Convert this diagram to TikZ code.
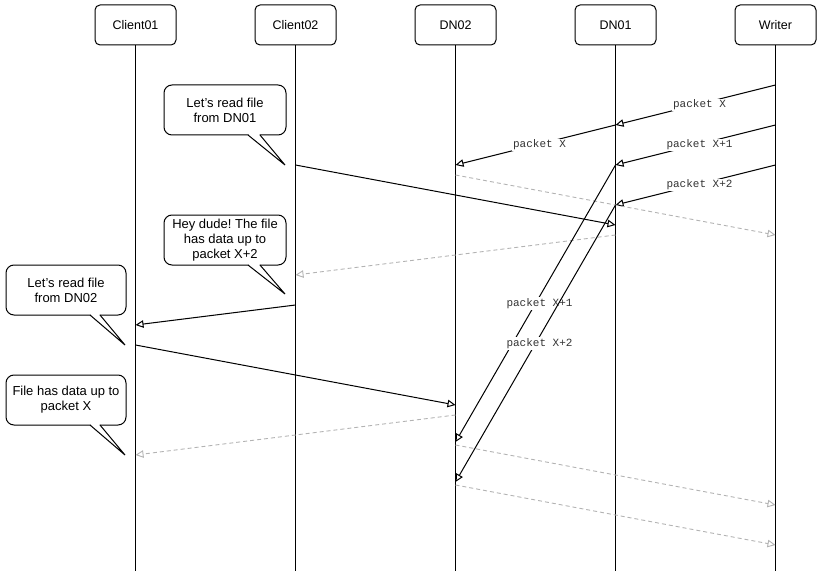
\documentclass[tikz,border=0pt]{standalone}
\usepackage{fontspec}
\setmainfont{Liberation Sans}
\newfontfamily\pkfont{Liberation Mono}
\usetikzlibrary{arrows.meta}
\definecolor{dashgrey}{HTML}{B3B3B3}
\definecolor{labgrey}{HTML}{333333}
\frenchspacing
\begin{document}
\begin{tikzpicture}[x=1pt,y=-1pt,
  actor/.style={draw, rounded corners=5pt, minimum width=81pt, minimum height=40pt, font=\fontsize{12.5}{14}\selectfont, line width=1pt},
  life/.style={line width=1pt},
  msg/.style={line width=1pt, -{Triangle[open,length=8pt,width=7.5pt]}},
  reply/.style={dashgrey, dash pattern=on 4pt off 3pt, line width=0.9pt, -{Triangle[open,length=8pt,width=7.5pt]}},
  pk/.style={font=\pkfont\fontsize{11}{12}\selectfont, text=labgrey, fill=white, inner sep=1pt, xshift=4pt},
  bubble/.style={draw, rounded corners=8pt, fill=white, minimum height=50pt, align=center, font=\fontsize{13}{15}\selectfont, line width=1pt},
  tailline/.style={line width=1pt, line join=miter}]
\useasboundingbox (0,0) rectangle (821,572);

% actors
\node[actor] (c1) at (135.5,25) {Client01};
\node[actor] (c2) at (295.5,25) {Client02};
\node[actor] (d2) at (455.5,25) {DN02};
\node[actor] (d1) at (615.5,25) {DN01};
\node[actor] (w)  at (775.5,25) {Writer};

% lifeline ends
\coordinate (c1end) at (c1 |- 0,571);
\coordinate (c2end) at (c2 |- 0,571);
\coordinate (d2end) at (d2 |- 0,571);
\coordinate (d1end) at (d1 |- 0,571);
\coordinate (wend)  at (w  |- 0,571);
\draw[life] (c1) -- (c1end);
\draw[life] (c2) -- (c2end);
\draw[life] (d2) -- (d2end);
\draw[life] (d1) -- (d1end);
\draw[life] (w)  -- (wend);

% message points
\coordinate (w1) at (w |- 0,85);
\coordinate (w2) at (w |- 0,125);
\coordinate (w3) at (w |- 0,165);
\coordinate (w4) at (w |- 0,235);
\coordinate (w5) at (w |- 0,505);
\coordinate (w6) at (w |- 0,545);
\coordinate (d1a) at (d1 |- 0,125);
\coordinate (d1b) at (d1 |- 0,165);
\coordinate (d1c) at (d1 |- 0,205);
\coordinate (d1d) at (d1 |- 0,225);
\coordinate (d1e) at (d1 |- 0,235);
\coordinate (d2a) at (d2 |- 0,165);
\coordinate (d2b) at (d2 |- 0,175);
\coordinate (d2c) at (d2 |- 0,442);
\coordinate (d2d) at (d2 |- 0,482);
\coordinate (d2e) at (d2 |- 0,405);
\coordinate (d2f) at (d2 |- 0,415);
\coordinate (d2g) at (d2 |- 0,445);
\coordinate (d2h) at (d2 |- 0,485);
\coordinate (c2a) at (c2 |- 0,165);
\coordinate (c2b) at (c2 |- 0,275);
\coordinate (c2c) at (c2 |- 0,305);
\coordinate (c1a) at (c1 |- 0,325);
\coordinate (c1b) at (c1 |- 0,345);
\coordinate (c1c) at (c1 |- 0,455);

% messages
\draw[msg] (w1) -- node[pk] {packet X} (d1a);
\draw[msg] (d1a) -- node[pk] {packet X} (d2a);
\draw[msg] (w2) -- node[pk] {packet X+1} (d1b);
\draw[msg] (w3) -- node[pk] {packet X+2} (d1c);
\draw[msg] (c2a) -- (d1d);
\draw[reply] (d2b) -- (w4);
\draw[reply] (d1e) -- (c2b);
\draw[msg] (c2c) -- (c1a);
\draw[msg] (d1b) -- node[pk] {packet X+1} (d2c);
\draw[msg] (d1c) -- node[pk] {packet X+2} (d2d);
\draw[msg] (c1b) -- (d2e);
\draw[reply] (d2f) -- (c1c);
\draw[reply] (d2g) -- (w5);
\draw[reply] (d2h) -- (w6);

% speech bubbles
\node[bubble, minimum width=122pt] (b1) at (225,110) {Let's read file\\from DN01};
\fill[white] (248.5,133.5) -- (259.5,133.5) -- (259.5,135) -- (285,165) -- (248.5,135) -- cycle;
\draw[tailline] (248,135) -- (285,165) -- (260,135);

\node[bubble, minimum width=122pt] (b2) at (225,240) {Hey dude! The file\\has data up to\\packet X+2};
\fill[white] (248.5,263.5) -- (259.5,263.5) -- (259.5,265) -- (285,294) -- (248.5,265) -- cycle;
\draw[tailline] (248,265) -- (285,294) -- (260,265);

\node[bubble, minimum width=120pt] (b3) at (66,290) {Let's read file\\from DN02};
\fill[white] (90.5,313.5) -- (99.5,313.5) -- (99.5,315) -- (125,345) -- (90.5,315) -- cycle;
\draw[tailline] (90,315) -- (125,345) -- (100,315);

\node[bubble, minimum width=120pt] (b4) at (66,400) {File has data up to\\packet X};
\fill[white] (90.5,423.5) -- (99.5,423.5) -- (99.5,425) -- (125,455) -- (90.5,425) -- cycle;
\draw[tailline] (90,425) -- (125,455) -- (100,425);
\end{tikzpicture}
\end{document}
